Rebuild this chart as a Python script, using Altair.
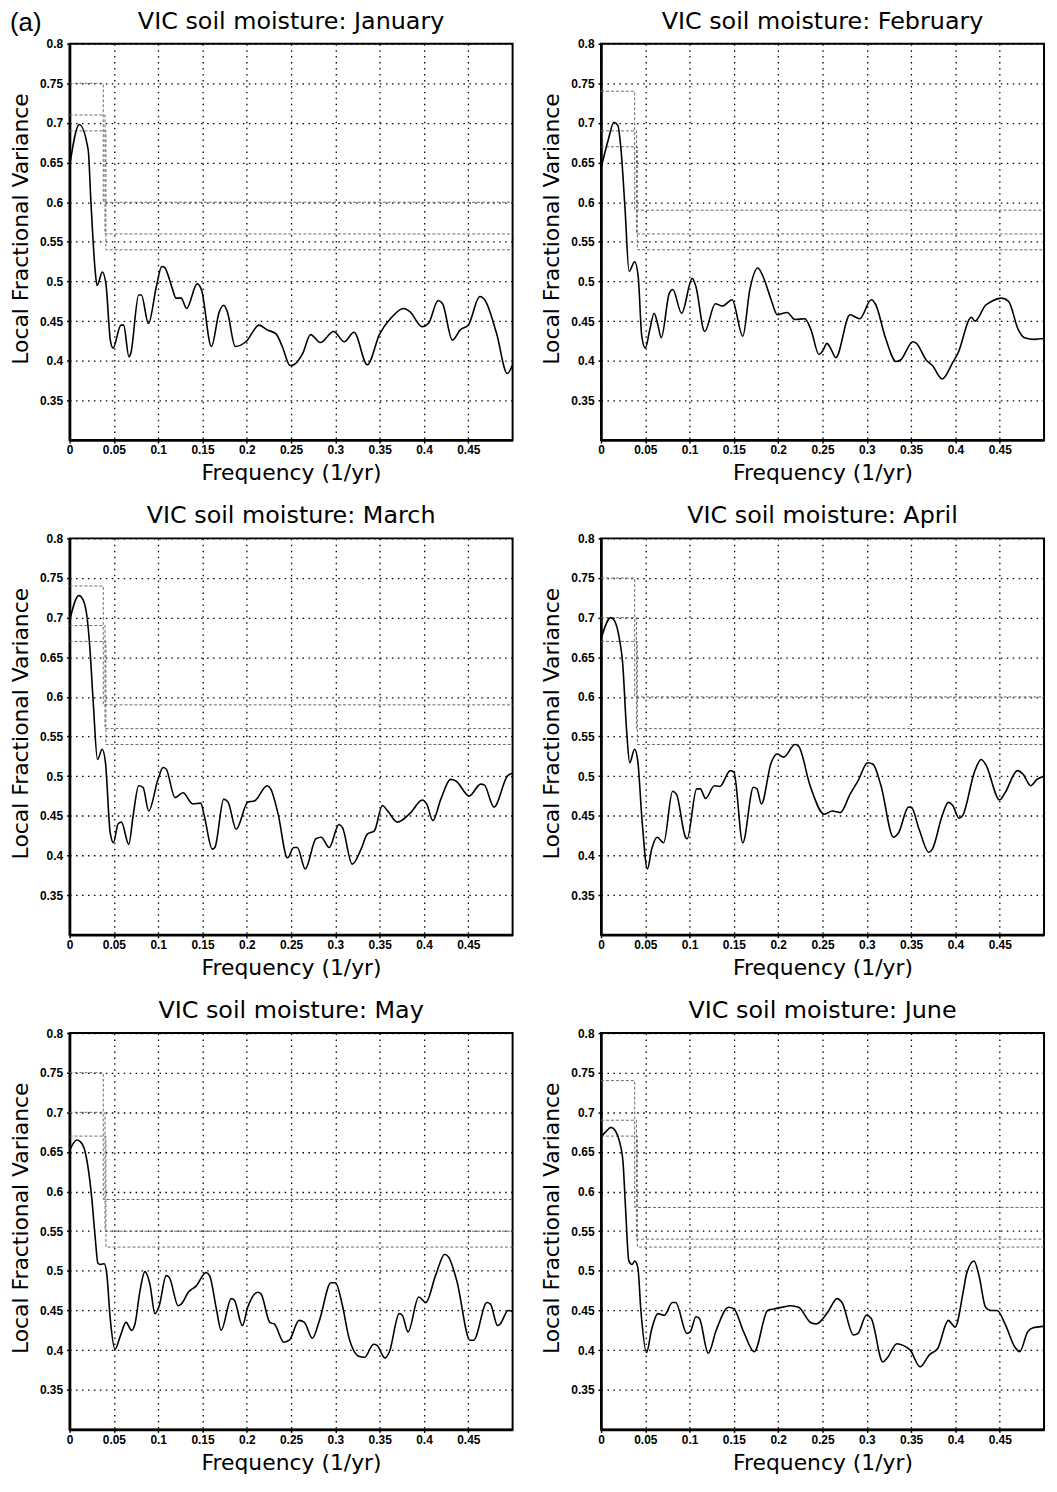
import altair as alt
import pandas as pd

months = ["January", "February", "March", "April", "May", "June"]
title_prefix = "VIC soil moisture: "
panel_tag = "(a)"

x_ticks = [0, 0.05, 0.1, 0.15, 0.2, 0.25, 0.3, 0.35, 0.4, 0.45]
y_ticks = [0.35, 0.4, 0.45, 0.5, 0.55, 0.6, 0.65, 0.7, 0.75, 0.8]

jan_x = [0, 0.011, 0.021, 0.024, 0.029, 0.031, 0.037, 0.041, 0.046, 0.049, 0.058, 0.061, 0.067, 0.069, 0.078,
         0.081, 0.089, 0.098, 0.104, 0.107, 0.116, 0.120, 0.126, 0.132, 0.144, 0.149, 0.160, 0.169, 0.174, 0.178,
         0.187, 0.199, 0.214, 0.223, 0.233, 0.240, 0.249, 0.253, 0.263, 0.272, 0.283, 0.298, 0.310, 0.321, 0.336,
         0.350, 0.362, 0.377, 0.384, 0.398, 0.405, 0.416, 0.421, 0.432, 0.441, 0.450, 0.463, 0.469, 0.482, 0.494, 0.500]
jan_y = [0.645, 0.698, 0.666, 0.602, 0.512, 0.495, 0.512, 0.497, 0.426, 0.416, 0.445, 0.445, 0.405, 0.409, 0.483,
         0.483, 0.447, 0.494, 0.519, 0.518, 0.491, 0.479, 0.479, 0.466, 0.497, 0.489, 0.418, 0.462, 0.470, 0.462,
         0.418, 0.424, 0.445, 0.439, 0.434, 0.418, 0.394, 0.395, 0.409, 0.433, 0.423, 0.437, 0.424, 0.436, 0.395,
         0.434, 0.453, 0.466, 0.462, 0.443, 0.447, 0.476, 0.472, 0.426, 0.439, 0.445, 0.481, 0.476, 0.434, 0.384, 0.395]

feb_x = [0, 0.008, 0.0146, 0.019, 0.0226, 0.027, 0.0317, 0.038, 0.042, 0.046, 0.050, 0.055, 0.060, 0.064, 0.068,
         0.077, 0.081, 0.091, 0.103, 0.107, 0.117, 0.129, 0.137, 0.148, 0.160, 0.168, 0.177, 0.183, 0.192, 0.199,
         0.210, 0.219, 0.230, 0.237, 0.246, 0.250, 0.255, 0.259, 0.265, 0.281, 0.292, 0.305, 0.310, 0.321, 0.333,
         0.338, 0.352, 0.356, 0.367, 0.374, 0.385, 0.397, 0.403, 0.418, 0.422, 0.434, 0.441, 0.452, 0.460, 0.471,
         0.478, 0.489, 0.500]
feb_y = [0.643, 0.678, 0.701, 0.697, 0.666, 0.594, 0.513, 0.525, 0.506, 0.431, 0.416, 0.439, 0.460, 0.446, 0.429,
         0.485, 0.490, 0.460, 0.504, 0.494, 0.437, 0.472, 0.469, 0.477, 0.431, 0.490, 0.517, 0.506, 0.477, 0.458,
         0.461, 0.452, 0.453, 0.439, 0.408, 0.412, 0.422, 0.416, 0.404, 0.458, 0.453, 0.477, 0.471, 0.429, 0.399,
         0.401, 0.424, 0.422, 0.401, 0.394, 0.377, 0.398, 0.410, 0.455, 0.450, 0.470, 0.475, 0.479, 0.475, 0.439,
         0.429, 0.427, 0.428]

mar_x = [0, 0.0105, 0.015, 0.020, 0.023, 0.0267, 0.0315, 0.0368, 0.0405, 0.0458, 0.0495, 0.0548, 0.0585, 0.0668,
         0.0717, 0.078, 0.0829, 0.0893, 0.0998, 0.1055, 0.109, 0.119, 0.128, 0.139, 0.148, 0.152, 0.161, 0.164,
         0.174, 0.179, 0.188, 0.201, 0.209, 0.223, 0.227, 0.235, 0.246, 0.253, 0.257, 0.266, 0.278, 0.284, 0.293,
         0.304, 0.308, 0.319, 0.329, 0.336, 0.344, 0.353, 0.359, 0.370, 0.385, 0.398, 0.403, 0.410, 0.419, 0.430,
         0.436, 0.451, 0.464, 0.468, 0.479, 0.494, 0.500]
mar_y = [0.696, 0.728, 0.723, 0.698, 0.660, 0.593, 0.521, 0.534, 0.517, 0.429, 0.416, 0.440, 0.442, 0.414,
         0.450, 0.488, 0.486, 0.456, 0.496, 0.511, 0.509, 0.473, 0.479, 0.465, 0.466, 0.450, 0.408, 0.410,
         0.471, 0.467, 0.433, 0.467, 0.469, 0.488, 0.484, 0.454, 0.397, 0.410, 0.410, 0.383, 0.421, 0.423, 0.410,
         0.439, 0.435, 0.389, 0.408, 0.427, 0.431, 0.463, 0.456, 0.442, 0.454, 0.470, 0.465, 0.444, 0.471, 0.496,
         0.494, 0.475, 0.490, 0.489, 0.461, 0.500, 0.504]

apr_x = [0, 0.011, 0.0153, 0.0208, 0.0244, 0.0288, 0.0324, 0.0379, 0.0415, 0.0462, 0.0524, 0.0572, 0.0634, 0.0707,
         0.0808, 0.0852, 0.0954, 0.0972, 0.108, 0.112, 0.118, 0.128, 0.134, 0.146, 0.150, 0.160, 0.172, 0.176,
         0.181, 0.192, 0.199, 0.206, 0.219, 0.223, 0.236, 0.252, 0.261, 0.270, 0.281, 0.290, 0.301, 0.307, 0.316,
         0.330, 0.336, 0.347, 0.350, 0.359, 0.370, 0.374, 0.385, 0.392, 0.397, 0.404, 0.408, 0.422, 0.429, 0.434,
         0.450, 0.456, 0.470, 0.476, 0.485, 0.492, 0.500]
apr_y = [0.673, 0.700, 0.696, 0.673, 0.643, 0.559, 0.517, 0.534, 0.519, 0.446, 0.383, 0.408, 0.423, 0.416,
         0.481, 0.477, 0.423, 0.421, 0.484, 0.484, 0.472, 0.488, 0.487, 0.507, 0.505, 0.416, 0.486, 0.484,
         0.465, 0.517, 0.528, 0.524, 0.540, 0.538, 0.488, 0.452, 0.456, 0.454, 0.477, 0.494, 0.517, 0.515, 0.488,
         0.423, 0.429, 0.461, 0.461, 0.433, 0.404, 0.408, 0.450, 0.467, 0.463, 0.447, 0.450, 0.507, 0.521, 0.515,
         0.470, 0.479, 0.507, 0.503, 0.488, 0.496, 0.500]

may_x = [0, 0.0082, 0.012, 0.0176, 0.0225, 0.025, 0.0289, 0.0319, 0.0352, 0.039, 0.042, 0.0457, 0.0513, 0.057,
         0.0637, 0.070, 0.0738, 0.0795, 0.085, 0.0907, 0.0963, 0.1012, 0.109, 0.1124, 0.1226, 0.126, 0.134, 0.143,
         0.154, 0.158, 0.166, 0.171, 0.1825, 0.186, 0.195, 0.201, 0.2125, 0.216, 0.226, 0.231, 0.242, 0.248, 0.259,
         0.265, 0.274, 0.282, 0.295, 0.300, 0.308, 0.315, 0.327, 0.333, 0.343, 0.347, 0.356, 0.361, 0.372, 0.3755,
         0.382, 0.394, 0.402, 0.413, 0.4235, 0.428, 0.437, 0.452, 0.456, 0.471, 0.475, 0.483, 0.486, 0.495, 0.500]
may_y = [0.652, 0.665, 0.663, 0.650, 0.617, 0.592, 0.542, 0.510, 0.508, 0.509, 0.496, 0.442, 0.401, 0.417,
         0.435, 0.425, 0.433, 0.475, 0.499, 0.483, 0.446, 0.456, 0.494, 0.492, 0.456, 0.458, 0.473, 0.481,
         0.498, 0.494, 0.450, 0.425, 0.465, 0.463, 0.431, 0.454, 0.473, 0.471, 0.435, 0.433, 0.410, 0.4125, 0.4375,
         0.435, 0.415, 0.4375, 0.485, 0.485, 0.456, 0.417, 0.392, 0.391, 0.4075, 0.406, 0.390, 0.398, 0.446, 0.444,
         0.423, 0.467, 0.460, 0.494, 0.521, 0.517, 0.4875, 0.4125, 0.4125, 0.460, 0.458, 0.431, 0.433, 0.450, 0.449]

jun_x = [0, 0.0058, 0.0113, 0.016, 0.021, 0.0248, 0.0277, 0.0314, 0.035, 0.038, 0.0416, 0.045, 0.0514, 0.0569,
         0.0642, 0.0715, 0.0806, 0.0842, 0.097, 0.1007, 0.1072, 0.111, 0.121, 0.130, 0.144, 0.150, 0.161, 0.173,
         0.188, 0.195, 0.204, 0.214, 0.223, 0.237, 0.243, 0.256, 0.2665, 0.272, 0.285, 0.290, 0.2995, 0.305, 0.318,
         0.323, 0.334, 0.341, 0.349, 0.360, 0.3705, 0.380, 0.392, 0.396, 0.3996, 0.409, 0.4125, 0.421, 0.427, 0.434,
         0.440, 0.447, 0.456, 0.467, 0.4725, 0.4815, 0.487, 0.500]
jun_y = [0.669, 0.676, 0.681, 0.677, 0.6625, 0.6375, 0.579, 0.5125, 0.508, 0.5125, 0.504, 0.450, 0.397, 0.425,
         0.446, 0.444, 0.460, 0.460, 0.421, 0.423, 0.442, 0.440, 0.396, 0.425, 0.454, 0.452, 0.423, 0.398,
         0.450, 0.452, 0.454, 0.456, 0.454, 0.4345, 0.433, 0.448, 0.465, 0.460, 0.419, 0.421, 0.444, 0.440, 0.385,
         0.390, 0.408, 0.406, 0.400, 0.379, 0.394, 0.402, 0.4375, 0.433, 0.429, 0.475, 0.496, 0.5125, 0.492, 0.454,
         0.450, 0.450, 0.433, 0.404, 0.398, 0.423, 0.428, 0.430]

# significance thresholds: value below / above the step frequency, three levels each
step_x = [0.038, 0.040, 0.041]
thr_hi = {
    "January": [0.75, 0.71, 0.69], "February": [0.74, 0.69, 0.67], "March": [0.74, 0.69, 0.67],
    "April": [0.75, 0.70, 0.67], "May": [0.75, 0.70, 0.67], "June": [0.74, 0.69, 0.67],
}
thr_lo = {
    "January": [0.60, 0.56, 0.54], "February": [0.59, 0.56, 0.54], "March": [0.59, 0.56, 0.54],
    "April": [0.60, 0.56, 0.54], "May": [0.59, 0.55, 0.53], "June": [0.58, 0.54, 0.53],
}

curves = {
    "January": (jan_x, jan_y), "February": (feb_x, feb_y), "March": (mar_x, mar_y),
    "April": (apr_x, apr_y), "May": (may_x, may_y), "June": (jun_x, jun_y),
}

W, H = 446, 399


def panel(name, tag=None):
    xs, ys = curves[name]
    curve = pd.DataFrame({"f": xs, "v": ys})
    rows = []
    for k, (h, l, s) in enumerate(zip(thr_hi[name], thr_lo[name], step_x)):
        for i, (a, b) in enumerate([(0, h), (s, h), (s, l), (0.5, l)]):
            rows.append({"f": a, "v": b, "lvl": k, "i": i})
    thr = pd.DataFrame(rows)
    xenc = alt.X("f:Q", scale=alt.Scale(domain=[0, 0.5], nice=False, zero=False),
                 axis=alt.Axis(values=x_ticks, format="~g", title="Frequency (1/yr)"))
    yenc = alt.Y("v:Q", scale=alt.Scale(domain=[0.3, 0.8], nice=False, zero=False),
                 axis=alt.Axis(values=y_ticks, format="~g", title="Local Fractional Variance",
                               titleY=186))
    thr_layer = alt.Chart(thr).mark_line(color="#6a6a6a", strokeDash=[3, 2], strokeWidth=1).encode(
        x=xenc, y=yenc, detail="lvl:N", order="i:Q")
    line = alt.Chart(curve).mark_line(color="black", strokeWidth=1.6, interpolate="monotone").encode(
        x="f:Q", y="v:Q")
    ttl = alt.Chart(pd.DataFrame({"t": [title_prefix + name]})).mark_text(
        align="center", baseline="alphabetic", fontSize=24, font="DejaVu Sans", color="black").encode(
        x=alt.value(W / 2), y=alt.value(-15), text="t:N")
    layers = [thr_layer, line, ttl]
    if tag:
        lab = alt.Chart(pd.DataFrame({"t": [tag]})).mark_text(
            align="left", baseline="alphabetic", fontSize=26, font="Liberation Sans", color="black").encode(
            x=alt.value(-60), y=alt.value(-13), text="t:N")
        layers.append(lab)
    return alt.layer(*layers).properties(width=W, height=H)


rows = []
for r in range(3):
    rows.append(alt.hconcat(panel(months[2 * r], tag=panel_tag if r == 0 else None),
                            panel(months[2 * r + 1]), spacing=22))

chart = alt.vconcat(*rows, spacing=19).properties(
    padding={"top": -4, "left": 0, "right": 0, "bottom": 0}
).configure_view(
    stroke="black", strokeWidth=2
).configure_axis(
    labelFont="Liberation Sans", labelFontWeight="bold", labelFontSize=12, labelColor="black",
    titleFont="DejaVu Sans", titleFontSize=22, titleFontWeight="normal", titleColor="black",
    ticks=True, tickSize=3, tickWidth=1.5, tickColor="black",
    domain=True, domainColor="black", domainWidth=2.5,
    grid=True, gridDash=[1.5, 4.5], gridColor="black", gridOpacity=1, gridWidth=1.3,
    labelOverlap=False, labelFlush=False
).configure_axisX(labelPadding=2, titlePadding=7).configure_axisY(labelPadding=4, titlePadding=7)

chart.save("out.html", embed_options={"renderer": "svg", "actions": False})
